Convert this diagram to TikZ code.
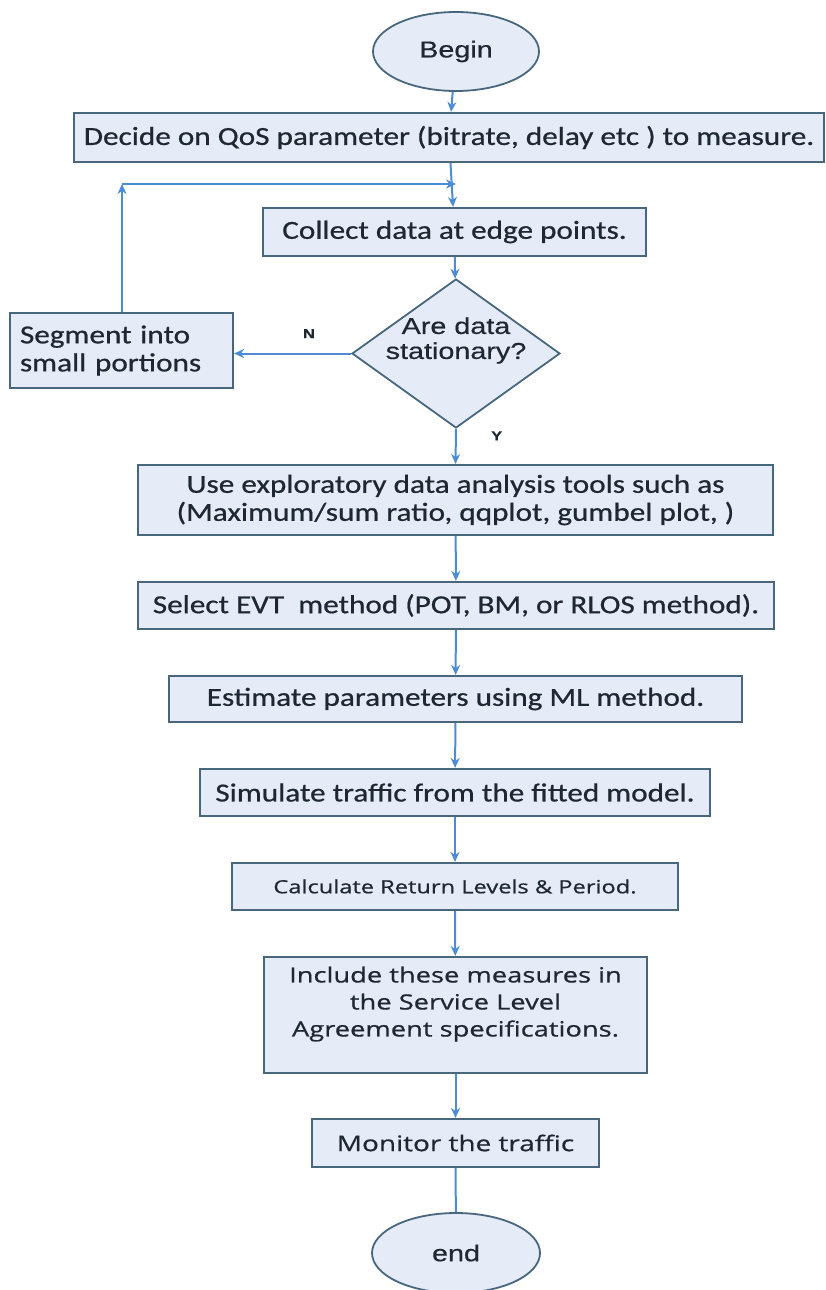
\documentclass[tikz,border=0pt]{standalone}
\usepackage{fontspec}
\setmainfont{Carlito}[FakeStretch=1.2, FakeBold=0.7]
\newfontfamily\arialfont{Liberation Sans}[FakeStretch=1.25, FakeBold=0.5]
\newfontfamily\segoefont{Open Sans}[FakeStretch=1.3, FakeBold=0.7]
\usetikzlibrary{shapes.geometric, arrows.meta}

\definecolor{boxfill}{RGB}{229,236,248}
\definecolor{boxline}{RGB}{72,102,124}
\definecolor{flowblue}{RGB}{76,140,212}
\definecolor{inkdark}{RGB}{30,40,48}

\tikzset{
  proc/.style={draw=boxline, fill=boxfill, line width=2.2pt, text=inkdark,
    inner sep=0pt, align=center, font=\fontsize{26}{28}\selectfont},
  term/.style={proc, ellipse, line width=1.8pt, font=\arialfont\fontsize{23}{26}\selectfont},
  decision/.style={proc, diamond, line width=1.8pt},
  flow/.style={draw=flowblue, line width=2pt},
  yn/.style={text=inkdark, font=\arialfont\bfseries\fontsize{13}{14}\selectfont}
}

\begin{document}
\begin{tikzpicture}[x=1pt, y=-1pt, >={Stealth[length=10pt, width=9pt]}]
  \useasboundingbox (0,0) rectangle (826,1290);

  \node[term, minimum width=166, minimum height=79] (begin) at (456,51.5) {Begin};
  \node[proc, minimum width=750, minimum height=49] (qos) at (449,137.5)
    {Decide on QoS parameter (bitrate, delay etc ) to measure.};
  \node[proc, minimum width=383, minimum height=48] (collect) at (454.5,232)
    {Collect data at edge points.};
  \node[decision, minimum width=208, minimum height=149,
    label={[text=inkdark, align=center, yshift=13pt,
      font=\arialfont\fontsize{23}{25}\selectfont]center:Are data\\stationary?}]
    (stat) at (456,353.5) {};
  \node[proc, minimum width=223, minimum height=75, align=left,
    text width=203, inner xsep=10] (segm) at (121.5,350.5)
    {Segment into\\small portions};
  \node[proc, minimum width=635, minimum height=70] (eda) at (455.5,500)
    {Use exploratory data analysis tools such as\\(Maximum/sum ratio, qqplot, gumbel plot, )};
  \node[proc, minimum width=636, minimum height=47] (evt) at (456,605.5)
    {Select EVT\ \ method (POT, BM, or RLOS method).};
  \node[proc, minimum width=573, minimum height=46] (mle) at (455.5,699)
    {Estimate parameters using ML method.};
  \node[proc, minimum width=510, minimum height=47] (sim) at (455,792.5)
    {Simulate traffic from the fitted model.};
  \node[proc, minimum width=446, minimum height=47,
    font=\segoefont\fontsize{18.2}{20}\selectfont] (retlev) at (455,886.5)
    {Calculate Return Levels \& Period.};
  \node[proc, minimum width=383, minimum height=116,
    font=\segoefont\fontsize{21}{27}\selectfont] (sla) at (455.5,1015)
    {Include these measures in\\the Service Level\\Agreement specifications.\\\mbox{}};
  \node[proc, minimum width=287, minimum height=48,
    font=\segoefont\fontsize{21.5}{24}\selectfont] (monitor) at (455.5,1143)
    {Monitor the traffic};
  \node[term, minimum width=168, minimum height=80] (stop) at (456,1253) {end};

  \coordinate (corner) at (122,184);
  \coordinate (loop) at (456,184);

  \draw[flow, ->] (begin) -- (qos);
  \draw[flow, ->] (qos) -- (collect);
  \draw[flow, ->] (collect) -- (stat);
  \draw[flow, ->] (stat.west) -- (stat.west -| segm.east)
    node[yn, pos=0.36, above=11pt] {N};
  \draw[flow, ->] (segm.north -| corner) -- (corner);
  \draw[flow, ->] (corner) -- (loop);
  \draw[flow, ->] (stat.south) -- (eda.north)
    node[yn, pos=0.2, right=31pt] {Y};
  \draw[flow, ->] (eda) -- (evt);
  \draw[flow, ->] (evt) -- (mle);
  \draw[flow, ->] (mle) -- (sim);
  \draw[flow, ->] (sim) -- (retlev);
  \draw[flow, ->] (retlev) -- (sla);
  \draw[flow, ->] (sla) -- (monitor);
  \draw[flow] (monitor) -- (stop);
\end{tikzpicture}
\end{document}
